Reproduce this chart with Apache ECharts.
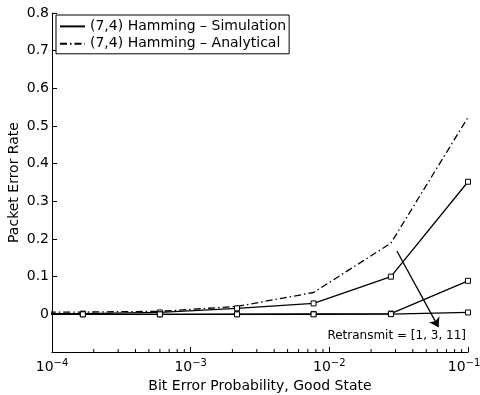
<!DOCTYPE html>
<html>
<head>
    <meta charset="utf-8">
    <script src="https://cdn.jsdelivr.net/npm/echarts@6/dist/echarts.min.js"></script>
    <style>
        html, body { margin: 0; padding: 0; background: #fff; }
        #chart { width: 480px; height: 395px; }
    </style>
</head>
<body>
<div id="chart"></div>
<script>
    // bit error probability in the good state (first point sits left of the axis and is clipped)
    const berGood = [4.6e-5, 1.67e-4, 6.0e-4, 2.16e-3, 7.7e-3, 2.78e-2, 1e-1]
    const simRetx1 = [0.001, 0.002, 0.005, 0.016, 0.029, 0.100, 0.352]
    const simRetx3 = [0, 0, 0, 0.0005, 0.001, 0.002, 0.089]
    const simRetx11 = [0, 0, 0, 0, 0, 0.0005, 0.005]
    const analytical = [0.006, 0.006, 0.008, 0.021, 0.058, 0.189, 0.523]

    // log axis minor ticks (2..9 in each decade)
    const minorTicks = [
        2e-4, 3e-4, 4e-4, 5e-4, 6e-4, 7e-4, 8e-4, 9e-4,
        2e-3, 3e-3, 4e-3, 5e-3, 6e-3, 7e-3, 8e-3, 9e-3,
        2e-2, 3e-2, 4e-2, 5e-2, 6e-2, 7e-2, 8e-2, 9e-2
    ]

    const simName = '(7,4) Hamming \u2013 Simulation'
    const anaName = '(7,4) Hamming \u2013 Analytical'
    const arrowFrom = [3.07e-2, 0.168]
    const arrowTo = [6.13e-2, -0.034]
    const noteText = 'Retransmit = [1, 3, 11]'

    const font = 'DejaVu Sans'
    const yMin = -0.1
    const xMax = 1e-1

    function pairs (xs, ys) {
        return xs.map((x, i) => [x, ys[i]])
    }

    function simSeries (values, extra) {
        return Object.assign({
            name: simName,
            type: 'line',
            data: pairs(berGood, values),
            symbol: 'rect',
            symbolSize: 5,
            showSymbol: true,
            itemStyle: { color: '#fff', borderColor: '#000', borderWidth: 1 },
            lineStyle: { color: '#000', width: 1.3 },
            emphasis: { disabled: true },
            clip: true
        }, extra || {})
    }

    const chart = echarts.init(document.getElementById('chart'))
    chart.setOption({
        animation: false,
        color: ['#000'],
        textStyle: { fontFamily: font, color: '#000' },
        grid: { left: 52, right: 12, top: 13, bottom: 43, containLabel: false, outerBoundsMode: 'none' },
        legend: {
            left: 56,
            top: 15,
            orient: 'vertical',
            data: [simName, anaName],
            borderColor: '#000',
            borderWidth: 1,
            borderRadius: 0,
            backgroundColor: '#fff',
            padding: [4, 3, 3, 3],
            itemGap: 3,
            itemWidth: 25,
            itemHeight: 16,
            itemStyle: { opacity: 0 },
            textStyle: { fontFamily: font, fontSize: 14, color: '#000' }
        },
        xAxis: {
            type: 'log',
            logBase: 10,
            min: 1e-4,
            max: xMax,
            name: 'Bit Error Probability, Good State',
            nameLocation: 'middle',
            nameGap: 22,
            nameTextStyle: { fontFamily: font, fontSize: 14, color: '#000', verticalAlign: 'top' },
            axisLine: { onZero: false, lineStyle: { color: '#000', width: 1 } },
            axisTick: { inside: true, length: 5, lineStyle: { color: '#000' } },
            minorTick: { show: false },
            splitLine: { show: false },
            axisLabel: {
                margin: 6,
                color: '#000',
                fontFamily: font,
                fontSize: 14,
                formatter: (v) => {
                    const e = Math.round(-Math.log10(v))
                    // last label is nudged left so it stays inside the canvas
                    return '10{' + (v >= xMax ? 'supR' : 'sup') + '|\u2212' + e + '}'
                },
                rich: {
                    sup: { fontFamily: font, fontSize: 10, verticalAlign: 'top', padding: [0, 0, 9, 0] },
                    supR: { fontFamily: font, fontSize: 10, verticalAlign: 'top', padding: [0, 8, 9, 0] }
                }
            }
        },
        yAxis: {
            type: 'value',
            min: yMin,
            max: 0.8,
            interval: 0.1,
            name: 'Packet Error Rate',
            nameLocation: 'middle',
            nameGap: 31,
            nameMoveOverlap: false,
            nameTextStyle: { fontFamily: font, fontSize: 14, color: '#000' },
            axisLine: { show: true, lineStyle: { color: '#000', width: 1 } },
            axisTick: { inside: true, length: 5, lineStyle: { color: '#000' } },
            splitLine: { show: false },
            axisLabel: {
                margin: 3,
                color: '#000',
                fontFamily: font,
                fontSize: 14,
                formatter: (v) => v < -0.05 ? '' : String(Math.round(v * 10) / 10)
            }
        },
        series: [
            simSeries(simRetx1, {
                markLine: {
                    silent: true,
                    symbol: ['none', 'arrow'],
                    symbolSize: 9,
                    label: { show: false },
                    lineStyle: { color: '#000', type: 'solid', width: 1.3 },
                    data: [[{ coord: arrowFrom }, { coord: arrowTo }]]
                }
            }),
            simSeries(simRetx3),
            simSeries(simRetx11),
            {
                name: anaName,
                type: 'line',
                data: pairs(berGood, analytical),
                symbol: 'none',
                lineStyle: { color: '#000', width: 1.3, type: [7, 3, 1.5, 3] },
                emphasis: { disabled: true },
                clip: true
            },
            {
                name: 'minor ticks',
                type: 'custom',
                silent: true,
                data: minorTicks.map((v) => [v, yMin]),
                renderItem: (params, api) => {
                    const p = api.coord([api.value(0), api.value(1)])
                    return {
                        type: 'line',
                        shape: { x1: p[0], y1: p[1], x2: p[0], y2: p[1] - 3 },
                        style: { stroke: '#000', lineWidth: 1 }
                    }
                }
            }
        ],
        graphic: [{
            type: 'text',
            right: 14,
            top: 330,
            style: { text: noteText, font: '12px "DejaVu Sans"', fill: '#000' }
        }]
    })
</script>
</body>
</html>
